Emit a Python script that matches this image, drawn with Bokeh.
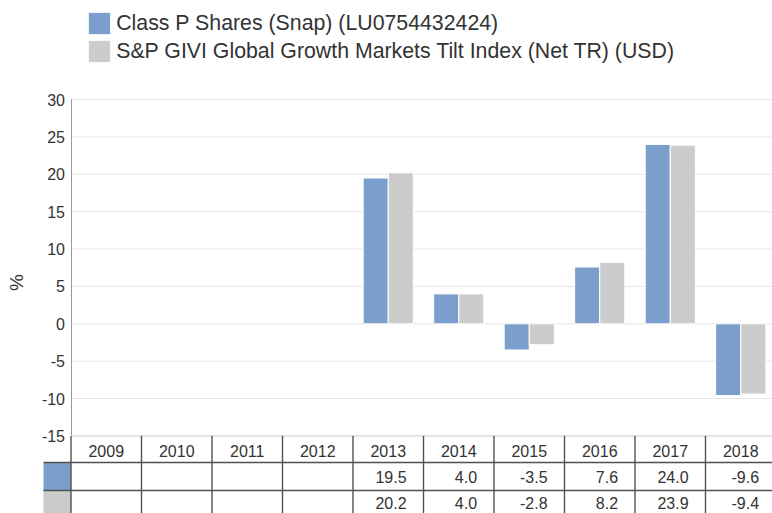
import math
from bokeh.plotting import figure
from bokeh.models import ColumnDataSource, FixedTicker, Legend, LegendItem, Label, Range1d
from bokeh.core.properties import value
from bokeh.embed import file_html
from bokeh.resources import INLINE

# ---- data ----
years = ["2009", "2010", "2011", "2012", "2013", "2014", "2015", "2016", "2017", "2018"]
fund = [None, None, None, None, 19.5, 4.0, -3.5, 7.6, 24.0, -9.6]
bench = [None, None, None, None, 20.2, 4.0, -2.8, 8.2, 23.9, -9.4]
fund_label = "Class P Shares (Snap) (LU0754432424)"
bench_label = "S&P GIVI Global Growth Markets Tilt Index (Net TR) (USD)"
y_ticks = [-15, -10, -5, 0, 5, 10, 15, 20, 25, 30]
y_tick_labels = ["-15", "-10", "-5", "0", "5", "10", "15", "20", "25", "30"]
y_label = "%"

# ---- styles / layout ----
W, H = 772, 513
BLUE = "#7b9fcc"
GREY = "#cccccc"
FONT = "Liberation Sans"
TXT = "#333333"
PXY = 7.475          # pixels per % unit
PXX = 70.5           # pixels per category
X0_PX = 105.75       # pixel position of first category centre
Y0_PX = 323.3        # pixel position of 0 %


def dx(px):
    return (px - X0_PX) / PXX


def dy(px):
    return (Y0_PX - px) / PXY


X_LEFT, X_RIGHT = dx(0), dx(W)
Y_TOP, Y_BOT = dy(0), dy(H)
SW_LEFT = dx(43)
AX_X = -0.5
ROW1, ROW2 = dy(462), dy(490)

p = figure(width=W, height=H,
           x_range=Range1d(X_LEFT, X_RIGHT), y_range=Range1d(Y_BOT, Y_TOP),
           output_backend="svg", toolbar_location=None, x_axis_location=None,
           min_border_left=0, min_border_right=0, min_border_top=0, min_border_bottom=0,
           outline_line_color=None)
p.xgrid.visible = False
p.ygrid.visible = False

ax = p.yaxis[0]
ax.fixed_location = AX_X
ax.bounds = (y_ticks[0], y_ticks[-1])
ax.ticker = FixedTicker(ticks=y_ticks)
ax.major_label_overrides = dict(zip(y_ticks, y_tick_labels))
ax.major_tick_line_color = None
ax.minor_tick_line_color = None
ax.major_tick_in = 0
ax.major_tick_out = 0
ax.axis_line_color = "#999999"
ax.major_label_text_font = FONT
ax.major_label_text_font_size = "16px"
ax.major_label_text_color = TXT
ax.major_label_standoff = 6

# grid lines
n = len(y_ticks)
p.segment(x0=[AX_X] * n, x1=[X_RIGHT] * n, y0=y_ticks, y1=y_ticks,
          line_color=["#cccccc" if t == y_ticks[0] else "#e6e6e6" for t in y_ticks],
          line_width=1)

# bars
fi = [i for i, v in enumerate(fund) if v is not None]
bi = [i for i, v in enumerate(bench) if v is not None]
src_f = ColumnDataSource(dict(x=[i - 0.178 for i in fi], top=[fund[i] for i in fi]))
src_b = ColumnDataSource(dict(x=[i + 0.178 for i in bi], top=[bench[i] for i in bi]))
r1 = p.vbar(x="x", top="top", bottom=0, width=0.355, source=src_f,
            fill_color=BLUE, line_color="white", line_width=1)
r2 = p.vbar(x="x", top="top", bottom=0, width=0.355, source=src_b,
            fill_color=GREY, line_color="white", line_width=1)

# table
p.quad(left=[SW_LEFT, SW_LEFT], right=[AX_X, AX_X], top=[ROW1, ROW2], bottom=[ROW2, Y_BOT],
       fill_color=[BLUE, GREY], line_color=None)
vx = [i - 0.5 for i in range(len(years))]
p.segment(x0=vx, x1=vx, y0=[y_ticks[0]] * len(vx), y1=[Y_BOT] * len(vx),
          line_color="#505050", line_width=1.4)
p.segment(x0=[SW_LEFT, SW_LEFT], x1=[X_RIGHT, X_RIGHT], y0=[ROW1, ROW2], y1=[ROW1, ROW2],
          line_color="#505050", line_width=1.4)

cx = list(range(len(years)))
p.text(x=cx, y=[dy(450.5)] * len(cx), text=years, text_align="center", text_baseline="middle",
       text_font=value(FONT), text_font_size="16px", text_color=TXT)
p.text(x=[i + 0.26 for i in fi], y=[dy(476)] * len(fi), text=["%.1f" % fund[i] for i in fi],
       text_align="right", text_baseline="middle",
       text_font=value(FONT), text_font_size="16px", text_color=TXT)
p.text(x=[i + 0.26 for i in bi], y=[dy(502.5)] * len(bi), text=["%.1f" % bench[i] for i in bi],
       text_align="right", text_baseline="middle",
       text_font=value(FONT), text_font_size="16px", text_color=TXT)

# y label
p.add_layout(Label(x=dx(16), y=dy(282), text=y_label, angle=math.pi / 2,
                   text_align="center", text_baseline="middle",
                   text_font=FONT, text_font_size="19px", text_color=TXT))

# legend
legend = Legend(items=[LegendItem(label=fund_label, renderers=[r1]),
                       LegendItem(label=bench_label, renderers=[r2])],
                location=(85.2, H - 65.2), orientation="vertical",
                glyph_width=28, glyph_height=28, spacing=0, padding=0, margin=0,
                label_standoff=3, label_text_font=FONT, label_text_font_size="21.3px",
                label_text_color=TXT, border_line_color=None, background_fill_alpha=0)
p.add_layout(legend)

open("out.html", "w").write(file_html(p, INLINE))
